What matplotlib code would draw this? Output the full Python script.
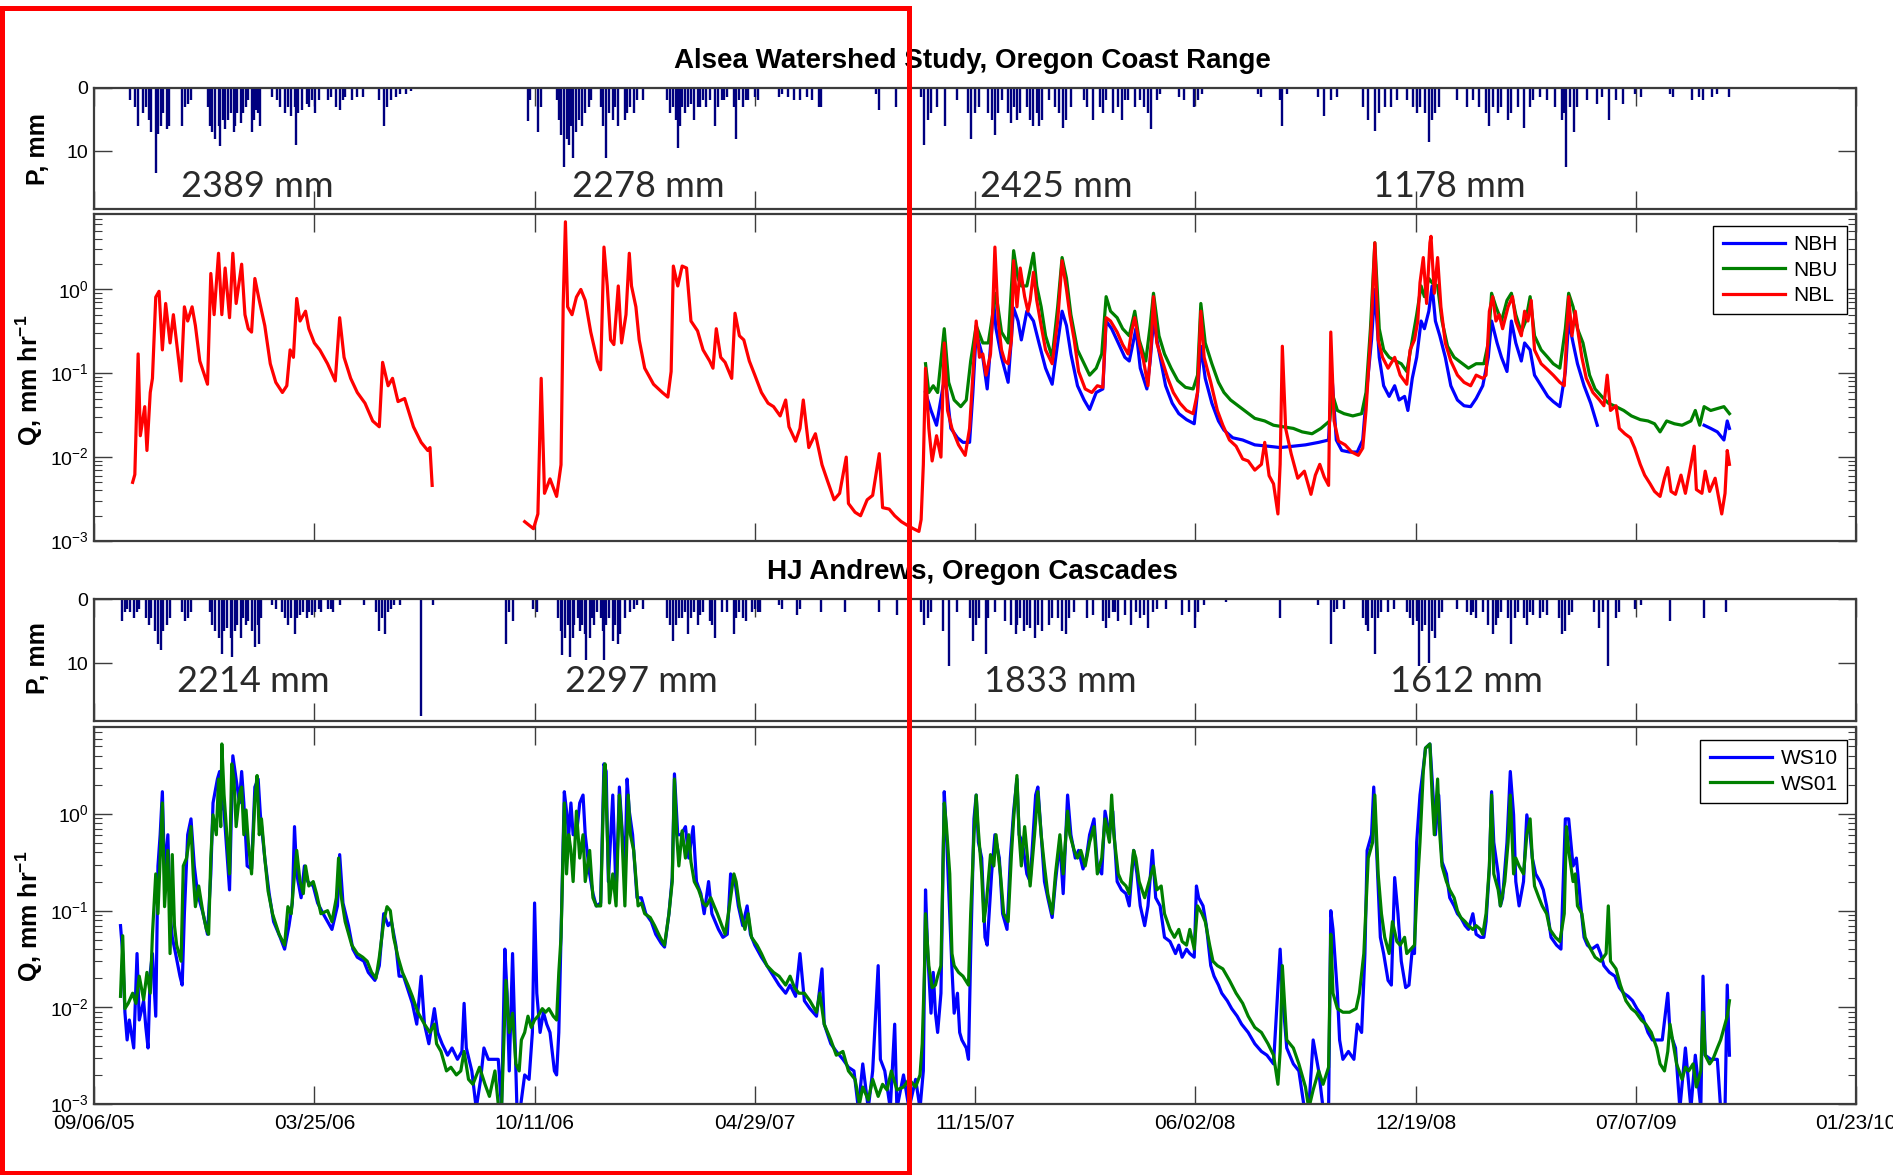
import numpy as np
import matplotlib.pyplot as plt
from matplotlib.patches import Rectangle
from matplotlib.ticker import FixedLocator, LogLocator, NullFormatter, FuncFormatter

plt.rcParams['font.family'] = ['Liberation Sans', 'DejaVu Sans']
plt.rcParams['mathtext.fontset'] = 'custom'
plt.rcParams['mathtext.rm'] = 'Liberation Sans'
plt.rcParams['mathtext.bf'] = 'Liberation Sans:bold'

nan = np.nan

# ---------------- data (x = days since 09/06/05) ----------------
tick_days = [0, 200, 400, 600, 800, 1000, 1200, 1400, 1600]
tick_labels = ['09/06/05', '03/25/06', '10/11/06', '04/29/07', '11/15/07',
               '06/02/08', '12/19/08', '07/07/09', '01/23/10']

# Alsea precipitation (day, mm)
alsea_p = [
    (33, 2), (37, 3), (40, 6), (44, 4), (47, 3), (50, 5), (52, 7), (56, 13.4), (58, 7.3), (61, 6),
    (63, 4), (66, 6.5), (68, 6), (80, 6), (83, 3), (85, 2.5), (88, 2), (103, 3), (105, 6), (107, 7),
    (110, 8), (113, 6), (114, 9.2), (117, 5), (119, 6.5), (122, 5), (124, 4), (127, 7), (128, 6),
    (130, 4), (133, 5.5), (135, 4), (138, 3), (140, 2), (143, 7), (145, 5), (147, 3.5), (149, 4),
    (151, 6), (162, 1.5), (166, 2), (169, 3), (173, 4), (176, 3), (179, 4.5), (182, 3), (183, 9),
    (185, 4), (189, 3.5), (193, 2.5), (195, 3), (198, 2), (201, 4), (204, 2), (212, 2), (215, 1.5),
    (220, 3), (223, 3.5), (226, 2), (228, 1.5), (234, 2), (239, 1.5), (244, 1.5), (259, 2), (263, 6),
    (266, 3), (270, 2), (274, 1.5), (278, 1), (283, 1), (288, 0.5),
    (394, 5.3), (396, 2), (403, 7), (406, 3), (420, 2), (422, 5), (424, 7.5), (427, 12.4), (429, 8),
    (431, 9), (433, 6), (435, 11), (438, 7), (440, 5), (443, 6), (446, 4), (449, 3), (451, 2),
    (460, 3), (462, 6), (465, 11), (468, 4), (471, 5), (473, 3), (476, 6), (482, 5), (484, 4),
    (487, 3), (490, 4), (493, 2), (498, 2), (520, 2), (523, 4), (526, 3), (528, 5), (530, 9.5),
    (532, 6), (534, 3), (537, 4), (539, 3), (542, 2.5), (545, 5), (548, 3), (550, 3), (553, 2),
    (556, 3), (559, 2), (564, 6), (567, 3), (570, 2), (572, 2), (575, 1.5), (581, 3), (583, 8),
    (586, 2), (589, 3), (592, 2), (594, 2), (600, 1.5), (603, 2), (622, 1.5), (625, 1), (630, 1.5),
    (636, 2), (641, 2), (647, 1.5), (652, 2), (658, 3), (660, 3), (710, 1), (713, 3.5), (728, 3),
    (751, 1.5), (754, 9), (757, 5), (760, 4), (765, 3), (773, 6),
    (784, 2), (794, 4), (796, 8), (800, 4), (804, 3), (812, 4), (815, 5), (818, 7.5), (821, 4),
    (824, 2), (830, 4), (833, 5.5), (835, 3), (838, 5), (841, 4), (847, 3), (850, 5), (853, 6),
    (856, 4), (858, 6), (861, 5), (867, 2), (873, 3), (876, 4), (880, 6.3), (883, 5), (887, 3),
    (899, 2), (902, 3), (907, 5), (913, 3), (916, 4), (919, 2), (925, 4), (930, 3), (933, 5),
    (936, 2), (939, 2), (945, 3), (950, 2), (953, 3), (957, 4), (960, 6.5), (965, 2), (968, 1),
    (985, 1.5), (990, 2), (999, 3), (1002, 2), (1006, 1), (1057, 1), (1060, 1.5), (1077, 2),
    (1079, 6), (1083, 1), (1111, 1.5), (1117, 4.5), (1123, 2), (1129, 1.5), (1152, 3), (1157, 5),
    (1163, 6.8), (1167, 4), (1172, 3), (1178, 3), (1183, 2), (1192, 2), (1198, 3), (1201, 4),
    (1204, 3), (1209, 4), (1212, 8.5), (1215, 5), (1218, 4), (1221, 3), (1238, 2), (1247, 3),
    (1252, 2), (1258, 3), (1264, 4), (1267, 6), (1270, 3), (1275, 4), (1278, 3), (1284, 5),
    (1287, 4), (1293, 3), (1298, 6.3), (1304, 3), (1307, 2), (1313, 1.5), (1319, 2), (1327, 3),
    (1333, 5), (1335, 4), (1337, 12.5), (1340, 3), (1344, 7), (1347, 3), (1356, 2), (1365, 2.5),
    (1369, 1.5), (1376, 5), (1382, 2), (1388, 2.5), (1399, 1), (1405, 1.5), (1431, 1), (1434, 1.5),
    (1451, 2), (1457, 1.5), (1461, 2), (1469, 1.5), (1474, 1), (1485, 1.5),
]

# Alsea streamflow (day, mm/hr)
nbh = [
    (755, 0.059), (760, 0.036), (765, 0.024), (771, 0.071), (773, 0.087), (778, 0.022), (784, 0.017),
    (789, 0.015), (795, 0.015), (798, 0.059), (801, 0.31), (807, 0.155), (811, 0.065), (817, 0.68),
    (819, 0.34), (824, 0.155), (830, 0.078), (835, 0.6), (839, 0.42), (842, 0.25), (847, 0.55),
    (853, 0.42), (858, 0.23), (864, 0.115), (870, 0.074), (875, 0.23), (879, 0.55), (883, 0.37),
    (887, 0.17), (893, 0.071), (899, 0.048), (904, 0.037), (910, 0.059), (916, 0.065), (919, 0.42),
    (924, 0.34), (930, 0.23), (936, 0.155), (940, 0.14), (944, 0.25), (946, 0.34), (950, 0.115),
    (956, 0.065), (959, 0.14), (962, 0.42), (968, 0.155), (973, 0.071), (979, 0.044), (985, 0.033),
    (992, 0.028), (999, 0.025), (1002, 0.059), (1005, 0.21), (1009, 0.087), (1015, 0.044),
    (1021, 0.027), (1026, 0.021), (1034, 0.017), (1043, 0.016), (1054, 0.014), (1066, 0.0135),
    (1077, 0.013), (1089, 0.0135), (1100, 0.014), (1112, 0.015), (1121, 0.016), (1124, 0.095),
    (1128, 0.016), (1133, 0.012), (1140, 0.0115), (1147, 0.0115), (1152, 0.016), (1156, 0.071),
    (1160, 0.25), (1163, 1.0), (1167, 0.155), (1171, 0.071), (1176, 0.053), (1181, 0.071),
    (1185, 0.048), (1190, 0.053), (1193, 0.036), (1197, 0.087), (1201, 0.155), (1205, 0.42),
    (1208, 0.34), (1212, 0.55), (1215, 1.1), (1218, 0.42), (1222, 0.28), (1227, 0.155),
    (1232, 0.071), (1238, 0.048), (1244, 0.041), (1250, 0.04), (1255, 0.05), (1261, 0.071),
    (1266, 0.155), (1269, 0.42), (1274, 0.23), (1278, 0.155), (1283, 0.105), (1287, 0.42),
    (1291, 0.23), (1296, 0.14), (1299, 0.23), (1304, 0.19), (1308, 0.095), (1314, 0.071),
    (1320, 0.053), (1325, 0.046), (1331, 0.04), (1336, 0.105), (1339, 0.42), (1343, 0.23),
    (1347, 0.13), (1353, 0.071), (1359, 0.044), (1365, 0.024), (1410, nan), (1462, 0.024),
    (1468, 0.022), (1474, 0.02), (1480, 0.016), (1483, 0.027), (1485, 0.022),
]
nbu = [
    (755, 0.13), (758, 0.059), (762, 0.071), (766, 0.059), (772, 0.34), (776, 0.078), (781, 0.048),
    (787, 0.04), (792, 0.048), (796, 0.14), (801, 0.37), (807, 0.23), (812, 0.23), (817, 0.62),
    (819, 0.9), (824, 0.31), (830, 0.23), (835, 2.9), (839, 1.35), (842, 1.1), (847, 1.1),
    (853, 2.7), (856, 1.1), (860, 0.62), (864, 0.28), (870, 0.155), (875, 0.62), (879, 2.4),
    (883, 1.35), (887, 0.5), (893, 0.19), (899, 0.13), (904, 0.095), (910, 0.115), (915, 0.17),
    (919, 0.82), (923, 0.55), (929, 0.46), (934, 0.34), (940, 0.28), (945, 0.55), (949, 0.25),
    (955, 0.14), (959, 0.37), (962, 0.9), (967, 0.28), (972, 0.17), (978, 0.115), (984, 0.082),
    (991, 0.068), (998, 0.065), (1002, 0.095), (1005, 0.68), (1009, 0.23), (1015, 0.13),
    (1021, 0.078), (1026, 0.059), (1032, 0.048), (1040, 0.04), (1047, 0.034), (1054, 0.029),
    (1063, 0.027), (1071, 0.024), (1080, 0.023), (1089, 0.022), (1097, 0.02), (1106, 0.019),
    (1114, 0.022), (1122, 0.027), (1124, 0.059), (1129, 0.036), (1135, 0.033), (1143, 0.031),
    (1151, 0.033), (1155, 0.059), (1159, 0.34), (1163, 3.6), (1167, 0.34), (1171, 0.19),
    (1176, 0.155), (1182, 0.14), (1187, 0.13), (1192, 0.105), (1197, 0.25), (1201, 0.5),
    (1205, 1.1), (1208, 0.82), (1212, 1.35), (1215, 1.2), (1220, 1.1), (1224, 0.42), (1229, 0.21),
    (1235, 0.155), (1241, 0.135), (1248, 0.115), (1255, 0.13), (1262, 0.13), (1266, 0.23),
    (1269, 0.9), (1273, 0.62), (1278, 0.42), (1283, 0.74), (1287, 0.9), (1291, 0.5), (1296, 0.31),
    (1300, 0.42), (1304, 0.82), (1308, 0.28), (1314, 0.19), (1320, 0.155), (1325, 0.13),
    (1331, 0.115), (1336, 0.34), (1339, 0.9), (1343, 0.62), (1347, 0.34), (1352, 0.23),
    (1358, 0.095), (1363, 0.065), (1369, 0.053), (1375, 0.044), (1382, 0.04), (1389, 0.036),
    (1396, 0.031), (1404, 0.028), (1411, 0.027), (1417, 0.025), (1422, 0.02), (1428, 0.027),
    (1435, 0.025), (1442, 0.024), (1450, 0.027), (1454, 0.036), (1458, 0.024), (1462, 0.04),
    (1468, 0.036), (1474, 0.038), (1480, 0.04), (1485, 0.033),
]
nbl = [
    (35, 0.005), (37, 0.0062), (40, 0.17), (42, 0.018), (46, 0.04), (48, 0.012), (51, 0.059),
    (53, 0.087), (56, 0.81), (59, 0.95), (62, 0.19), (65, 0.68), (69, 0.23), (72, 0.5), (75, 0.23),
    (79, 0.081), (82, 0.62), (85, 0.42), (89, 0.62), (92, 0.37), (96, 0.14), (103, 0.074),
    (106, 1.55), (109, 0.5), (113, 2.7), (116, 0.5), (119, 1.8), (123, 0.46), (126, 2.7),
    (129, 0.68), (134, 2.0), (137, 0.5), (140, 0.34), (143, 0.31), (146, 1.35), (150, 0.74),
    (155, 0.37), (160, 0.13), (165, 0.078), (171, 0.059), (175, 0.071), (178, 0.19), (181, 0.155),
    (184, 0.78), (187, 0.42), (192, 0.55), (195, 0.34), (200, 0.23), (205, 0.19), (212, 0.13),
    (219, 0.081), (223, 0.46), (227, 0.155), (233, 0.087), (239, 0.059), (246, 0.044),
    (253, 0.027), (259, 0.023), (262, 0.135), (267, 0.071), (271, 0.087), (276, 0.046), (282, 0.05),
    (290, 0.023), (297, 0.015), (303, 0.012), (305, 0.013), (307, 0.0046), (340, nan),
    (391, 0.0017), (399, 0.0014), (403, 0.0021), (406, 0.087), (409, 0.0037), (414, 0.0055),
    (420, 0.0034), (424, 0.0081), (426, 0.68), (428, 6.4), (430, 0.62), (434, 0.5), (438, 0.81),
    (442, 1.0), (446, 0.74), (451, 0.31), (457, 0.14), (460, 0.11), (463, 3.2), (466, 1.1),
    (469, 0.25), (472, 0.22), (476, 1.1), (479, 0.23), (483, 0.5), (486, 2.7), (488, 1.1),
    (492, 0.62), (495, 0.25), (500, 0.115), (508, 0.074), (516, 0.059), (521, 0.052), (524, 0.105),
    (526, 1.9), (530, 1.1), (534, 1.9), (538, 1.8), (542, 0.42), (548, 0.32), (553, 0.19),
    (559, 0.14), (562, 0.115), (565, 0.34), (569, 0.155), (573, 0.135), (579, 0.087), (582, 0.52),
    (586, 0.28), (590, 0.25), (595, 0.14), (600, 0.095), (606, 0.059), (612, 0.044), (617, 0.04),
    (623, 0.031), (628, 0.048), (631, 0.023), (637, 0.0155), (641, 0.022), (644, 0.048),
    (649, 0.013), (655, 0.019), (661, 0.0081), (666, 0.0052), (672, 0.0031), (677, 0.0037),
    (683, 0.01), (685, 0.0028), (691, 0.0022), (696, 0.002), (702, 0.0031), (707, 0.0035),
    (713, 0.011), (716, 0.0025), (722, 0.0024), (727, 0.002), (733, 0.0017), (738, 0.00155),
    (744, 0.0014), (749, 0.0013), (751, 0.0018), (753, 0.0081), (755, 0.115), (758, 0.022),
    (761, 0.009), (765, 0.018), (769, 0.01), (772, 0.23), (775, 0.036), (779, 0.022), (785, 0.014),
    (791, 0.0105), (795, 0.022), (798, 0.095), (801, 0.42), (804, 0.155), (807, 0.17), (810, 0.095),
    (814, 0.17), (816, 0.55), (818, 3.2), (821, 0.42), (824, 0.19), (827, 0.14), (830, 0.13),
    (833, 0.25), (835, 2.2), (838, 0.62), (841, 1.8), (845, 0.82), (848, 0.55), (850, 0.74),
    (853, 1.6), (856, 0.74), (860, 0.37), (864, 0.19), (870, 0.13), (875, 0.42), (879, 2.2),
    (883, 1.0), (886, 0.5), (890, 0.25), (894, 0.105), (900, 0.065), (906, 0.059), (911, 0.071),
    (916, 0.068), (919, 0.46), (923, 0.42), (929, 0.31), (934, 0.22), (939, 0.17), (942, 0.31),
    (945, 0.46), (949, 0.23), (953, 0.14), (957, 0.071), (960, 0.23), (962, 0.82), (965, 0.23),
    (969, 0.155), (975, 0.087), (980, 0.059), (986, 0.044), (992, 0.036), (998, 0.033),
    (1002, 0.059), (1005, 0.55), (1008, 0.155), (1014, 0.078), (1020, 0.036), (1025, 0.024),
    (1031, 0.016), (1037, 0.0135), (1043, 0.0095), (1048, 0.009), (1054, 0.007), (1060, 0.0082),
    (1063, 0.015), (1067, 0.006), (1071, 0.0048), (1075, 0.0021), (1077, 0.0082), (1079, 0.21),
    (1082, 0.022), (1087, 0.011), (1093, 0.0056), (1099, 0.0068), (1105, 0.0036), (1109, 0.0061),
    (1113, 0.0082), (1117, 0.0058), (1121, 0.0046), (1123, 0.31), (1126, 0.027), (1130, 0.0155),
    (1136, 0.014), (1142, 0.0115), (1148, 0.0105), (1152, 0.0128), (1155, 0.036), (1158, 0.155),
    (1160, 0.42), (1163, 3.6), (1166, 0.25), (1170, 0.155), (1175, 0.115), (1181, 0.155),
    (1186, 0.095), (1192, 0.074), (1195, 0.19), (1199, 0.25), (1202, 0.42), (1204, 1.2),
    (1207, 2.4), (1210, 0.68), (1213, 3.6), (1214, 4.3), (1217, 0.9), (1220, 2.4), (1223, 0.62),
    (1227, 0.23), (1232, 0.14), (1238, 0.095), (1244, 0.078), (1250, 0.071), (1255, 0.095),
    (1261, 0.087), (1264, 0.095), (1267, 0.55), (1270, 0.82), (1273, 0.42), (1276, 0.5),
    (1279, 0.34), (1284, 0.62), (1288, 0.82), (1291, 0.42), (1296, 0.28), (1299, 0.55),
    (1302, 0.42), (1305, 0.74), (1308, 0.19), (1314, 0.13), (1320, 0.11), (1325, 0.095),
    (1331, 0.078), (1335, 0.071), (1337, 0.25), (1339, 0.82), (1342, 0.28), (1345, 0.55),
    (1348, 0.28), (1351, 0.155), (1355, 0.087), (1361, 0.059), (1367, 0.048), (1371, 0.041),
    (1374, 0.095), (1377, 0.036), (1382, 0.041), (1385, 0.022), (1390, 0.019), (1395, 0.017),
    (1399, 0.0128), (1404, 0.0082), (1408, 0.0061), (1413, 0.0048), (1417, 0.0039), (1422, 0.0034),
    (1426, 0.0056), (1429, 0.0075), (1432, 0.0039), (1436, 0.0036), (1441, 0.0061), (1445, 0.0037),
    (1450, 0.0082), (1453, 0.0135), (1455, 0.0041), (1460, 0.0037), (1463, 0.0068), (1467, 0.0039),
    (1472, 0.0056), (1475, 0.0034), (1478, 0.0021), (1481, 0.0037), (1483, 0.012), (1485, 0.0082),
]

# HJ Andrews precipitation (day, mm)
hja_p = [
    (25, 3.5), (28, 2), (30, 1.5), (33, 2), (36, 3), (39, 2), (41, 1.5), (47, 3), (50, 4), (52, 3),
    (55, 5), (58, 7), (61, 8), (63, 5), (66, 4), (69, 3), (80, 2), (83, 3.5), (85, 3), (88, 2),
    (105, 2), (107, 4), (110, 5), (113, 6), (116, 8.5), (118, 5), (121, 4.5), (124, 6), (125, 9),
    (128, 5), (130, 4), (133, 6), (135, 3), (138, 4), (140, 3.5), (143, 5), (146, 7.5), (149, 4),
    (150, 7), (152, 3), (162, 1), (165, 1.5), (171, 2), (173, 3), (176, 4), (179, 3), (182, 5.5),
    (184, 3), (187, 2.5), (190, 2), (193, 3), (195, 2), (198, 2.5), (201, 2), (204, 1.5), (206, 2),
    (212, 1.5), (215, 1.5), (217, 2), (223, 1), (245, 1), (256, 2), (259, 5), (261, 3), (264, 5.5),
    (267, 2), (270, 1.5), (272, 1), (278, 1), (297, 18.2), (308, 1),
    (374, 7), (377, 2), (380, 3.5), (399, 1.5), (402, 2), (421, 3), (424, 5), (425, 8.7), (428, 6),
    (430, 4), (432, 9), (435, 6), (436, 4), (439, 3), (441, 5), (443, 4), (446, 5.5), (447, 9.5),
    (450, 6), (452, 3), (454, 4), (457, 2), (460, 3), (462, 5), (463, 9.5), (465, 4), (468, 3),
    (471, 6.5), (473, 4), (476, 7), (478, 5.5), (482, 3), (487, 2), (490, 1.5), (493, 1), (498, 1.5),
    (520, 3), (523, 4), (526, 6.5), (528, 4), (531, 3), (534, 3), (537, 2), (539, 5.5), (542, 3),
    (545, 2), (548, 4), (550, 2.5), (553, 2), (559, 3.5), (561, 4), (564, 6), (570, 2), (575, 2),
    (581, 5.5), (583, 3), (586, 2), (589, 3), (592, 3.5), (597, 2), (600, 1.5), (603, 2), (605, 2),
    (622, 1), (625, 1.5), (638, 2.5), (641, 1.5), (660, 2), (682, 2), (713, 2), (729, 2.5),
    (751, 2), (754, 4), (757, 3), (760, 2), (771, 5), (776, 10.5),
    (784, 2), (795, 3), (798, 6.5), (801, 4), (804, 3), (810, 8.5), (812, 3), (818, 2), (827, 3.5),
    (833, 4), (837, 5.5), (838, 4), (841, 3), (844, 5), (847, 4), (850, 4.5), (854, 6), (857, 4),
    (861, 5), (867, 4), (870, 3), (875, 3), (879, 5), (883, 5.5), (885, 3), (890, 2), (902, 3),
    (907, 2.5), (916, 3.5), (919, 4.5), (922, 3), (925, 2), (927, 2), (930, 3.5), (936, 2.5),
    (942, 4), (946, 2), (950, 3), (953, 2.5), (957, 4.5), (962, 2), (965, 1.5), (973, 1.5),
    (988, 2.5), (994, 2), (1000, 4.5), (1002, 2), (1008, 1), (1028, 0.5), (1077, 3), (1111, 1),
    (1123, 7), (1126, 2), (1129, 1.5), (1135, 1.5), (1152, 3), (1155, 4), (1157, 5), (1160, 3),
    (1163, 8.5), (1166, 3), (1169, 2), (1175, 2), (1180, 1.5), (1192, 2), (1195, 3), (1198, 4),
    (1201, 3.5), (1203, 10.5), (1206, 5), (1209, 4), (1212, 10), (1215, 5), (1218, 6), (1221, 3),
    (1224, 2), (1238, 1.5), (1247, 2), (1250, 2.5), (1252, 2), (1255, 3), (1261, 2), (1266, 4),
    (1270, 5.5), (1273, 4), (1275, 3), (1278, 2), (1284, 3), (1287, 7), (1290, 3), (1293, 2),
    (1298, 3), (1301, 4), (1304, 2), (1307, 2.5), (1313, 3), (1316, 2), (1319, 2.5), (1330, 3),
    (1333, 5.5), (1336, 5), (1339, 2.5), (1342, 2), (1362, 2), (1367, 4.5), (1370, 2), (1375, 10.5),
    (1382, 3), (1385, 2), (1399, 1.5), (1405, 1), (1431, 3.5), (1462, 3), (1482, 2),
]

# HJ Andrews streamflow (day, mm/hr)
ws10 = [
    (24, 0.07), (26, 0.036), (28, 0.0089), (30, 0.0046), (32, 0.0074), (36, 0.0038), (39, 0.036),
    (41, 0.0074), (45, 0.0117), (47, 0.0062), (49, 0.0038), (51, 0.023), (53, 0.036), (56, 0.0081),
    (58, 0.29), (60, 0.61), (62, 1.7), (64, 0.24), (67, 0.61), (69, 0.093), (71, 0.053), (74, 0.036),
    (78, 0.021), (80, 0.017), (82, 0.093), (85, 0.61), (88, 0.89), (91, 0.29), (94, 0.15),
    (99, 0.093), (103, 0.057), (106, 0.24), (108, 1.3), (112, 2.3), (114, 2.75), (116, 1.3),
    (118, 1.07), (123, 0.164), (126, 4.0), (129, 2.3), (132, 1.3), (134, 2.75), (136, 1.3),
    (139, 0.29), (143, 0.27), (146, 1.9), (149, 2.3), (151, 0.98), (155, 0.35), (159, 0.15),
    (163, 0.077), (169, 0.053), (173, 0.04), (177, 0.07), (180, 0.12), (182, 0.74), (184, 0.24),
    (188, 0.136), (191, 0.29), (194, 0.2), (199, 0.18), (203, 0.12), (208, 0.093), (212, 0.077),
    (216, 0.064), (221, 0.112), (223, 0.38), (226, 0.12), (231, 0.07), (235, 0.04), (239, 0.033),
    (245, 0.03), (249, 0.023), (255, 0.019), (259, 0.027), (263, 0.093), (267, 0.07), (270, 0.077),
    (274, 0.044), (277, 0.021), (281, 0.021), (286, 0.014), (289, 0.011), (293, 0.0067),
    (297, 0.021), (300, 0.0067), (304, 0.0042), (309, 0.0097), (312, 0.0055), (316, 0.0042),
    (321, 0.0032), (325, 0.0038), (330, 0.0029), (334, 0.0035), (336, 0.011), (338, 0.0038),
    (343, 0.0022), (347, 0.0009), (351, 0.0018), (354, 0.0038), (358, 0.0029), (363, 0.0029),
    (367, 0.0029), (370, 0.0009), (373, 0.04), (375, 0.014), (377, 0.0022), (380, 0.036),
    (384, 0.0009), (387, 0.0009), (391, 0.002), (395, 0.0018), (398, 0.0055), (400, 0.12),
    (402, 0.014), (405, 0.0055), (408, 0.0089), (411, 0.0067), (414, 0.0055), (418, 0.0022),
    (420, 0.002), (422, 0.0055), (424, 0.057), (427, 1.7), (429, 1.07), (431, 0.61), (433, 1.3),
    (435, 0.61), (438, 0.61), (441, 1.3), (444, 1.57), (446, 0.61), (450, 0.24), (453, 0.15),
    (456, 0.112), (460, 0.12), (463, 3.3), (465, 2.75), (467, 0.2), (471, 1.57), (474, 0.15),
    (477, 1.9), (482, 0.24), (484, 2.3), (486, 1.07), (489, 0.61), (493, 0.136), (497, 0.136),
    (501, 0.093), (506, 0.077), (510, 0.057), (515, 0.046), (518, 0.042), (522, 0.093),
    (525, 0.22), (527, 2.6), (530, 0.61), (533, 0.61), (537, 0.74), (540, 0.35), (544, 0.74),
    (547, 0.2), (551, 0.15), (554, 0.093), (558, 0.2), (561, 0.093), (564, 0.077), (567, 0.064),
    (571, 0.053), (575, 0.057), (578, 0.24), (582, 0.2), (585, 0.112), (589, 0.07), (593, 0.112),
    (596, 0.057), (600, 0.044), (606, 0.033), (611, 0.027), (617, 0.021), (622, 0.017),
    (628, 0.014), (632, 0.017), (637, 0.013), (641, 0.036), (645, 0.0117), (650, 0.0097),
    (656, 0.0081), (661, 0.025), (663, 0.0067), (669, 0.0042), (674, 0.0035), (680, 0.0029),
    (685, 0.0024), (690, 0.0022), (694, 0.0009), (698, 0.0026), (703, 0.0009), (707, 0.0022),
    (712, 0.027), (714, 0.0029), (718, 0.0022), (723, 0.0009), (727, 0.0067), (729, 0.0009),
    (735, 0.002), (740, 0.0009), (746, 0.0018), (750, 0.0009), (753, 0.0022),
    (755, 0.164), (757, 0.036), (760, 0.0087), (762, 0.023), (764, 0.0087), (766, 0.0055),
    (769, 0.014), (772, 1.7), (774, 0.61), (777, 0.093), (779, 0.025), (781, 0.0087), (784, 0.014),
    (786, 0.0055), (788, 0.0046), (792, 0.0038), (794, 0.0029), (796, 0.036), (799, 0.89),
    (801, 1.57), (803, 0.51), (806, 0.35), (809, 0.053), (811, 0.044), (815, 0.24), (818, 0.61),
    (822, 0.35), (825, 0.093), (829, 0.064), (832, 0.35), (835, 1.07), (838, 2.3), (840, 0.61),
    (843, 0.51), (847, 0.24), (850, 0.2), (855, 1.57), (857, 1.9), (860, 0.61), (863, 0.2),
    (866, 0.136), (870, 0.085), (873, 0.2), (877, 0.51), (880, 0.15), (884, 1.57), (887, 0.61),
    (891, 0.35), (894, 0.42), (898, 0.27), (901, 0.35), (904, 0.61), (908, 0.89), (911, 0.29),
    (915, 0.24), (918, 1.07), (922, 0.61), (925, 1.07), (929, 0.2), (933, 0.164), (937, 0.15),
    (940, 0.112), (944, 0.42), (947, 0.24), (950, 0.112), (954, 0.07), (957, 0.112), (961, 0.42),
    (964, 0.136), (968, 0.112), (972, 0.053), (977, 0.048), (982, 0.036), (985, 0.044),
    (988, 0.033), (992, 0.04), (995, 0.036), (999, 0.033), (1001, 0.18), (1003, 0.136),
    (1007, 0.112), (1010, 0.07), (1014, 0.027), (1017, 0.021), (1021, 0.017), (1024, 0.014),
    (1029, 0.0117), (1033, 0.0097), (1038, 0.0081), (1042, 0.0067), (1048, 0.0055), (1054, 0.0042),
    (1060, 0.0035), (1065, 0.0032), (1071, 0.0026), (1077, 0.04), (1079, 0.014), (1083, 0.0038),
    (1089, 0.0026), (1094, 0.0022), (1099, 0.0009), (1103, 0.0009), (1107, 0.0046), (1112, 0.0022),
    (1116, 0.0009), (1121, 0.0009), (1123, 0.1), (1125, 0.064), (1129, 0.014), (1131, 0.0046),
    (1134, 0.0029), (1139, 0.0035), (1144, 0.0029), (1147, 0.0067), (1151, 0.0055), (1154, 0.036),
    (1156, 0.42), (1160, 0.61), (1162, 1.9), (1164, 0.61), (1168, 0.053), (1171, 0.036),
    (1175, 0.019), (1178, 0.017), (1181, 0.22), (1184, 0.093), (1187, 0.03), (1191, 0.016),
    (1194, 0.017), (1197, 0.04), (1199, 0.036), (1201, 0.51), (1204, 1.57), (1207, 3.0),
    (1209, 4.8), (1213, 5.3), (1215, 2.3), (1218, 0.61), (1221, 1.57), (1224, 0.32), (1228, 0.24),
    (1231, 0.136), (1235, 0.112), (1238, 0.093), (1241, 0.085), (1245, 0.07), (1248, 0.064),
    (1252, 0.093), (1255, 0.057), (1259, 0.053), (1262, 0.053), (1264, 0.077), (1267, 0.27),
    (1269, 1.7), (1271, 0.51), (1275, 0.24), (1277, 0.112), (1279, 0.136), (1283, 0.51),
    (1286, 2.75), (1289, 0.98), (1291, 0.2), (1294, 0.112), (1298, 0.2), (1301, 0.98), (1304, 0.61),
    (1306, 0.35), (1309, 0.24), (1313, 0.2), (1316, 0.164), (1319, 0.112), (1323, 0.053),
    (1328, 0.044), (1332, 0.04), (1336, 0.89), (1339, 0.89), (1343, 0.29), (1346, 0.35),
    (1350, 0.112), (1353, 0.053), (1356, 0.044), (1360, 0.04), (1365, 0.044), (1368, 0.036),
    (1371, 0.027), (1376, 0.023), (1381, 0.021), (1385, 0.016), (1389, 0.014), (1393, 0.013),
    (1397, 0.0117), (1401, 0.0097), (1406, 0.0081), (1411, 0.0055), (1415, 0.0046), (1420, 0.0046),
    (1424, 0.0046), (1429, 0.014), (1431, 0.0055), (1436, 0.0038), (1440, 0.0009), (1445, 0.0038),
    (1450, 0.0009), (1454, 0.0032), (1459, 0.0009), (1461, 0.021), (1463, 0.0032), (1468, 0.0029),
    (1474, 0.0029), (1477, 0.0009), (1481, 0.0009), (1483, 0.017), (1485, 0.0032),
]
ws01 = [
    (24, 0.013), (26, 0.055), (28, 0.0097), (31, 0.011), (35, 0.014), (38, 0.011), (41, 0.021),
    (45, 0.012), (48, 0.023), (51, 0.014), (53, 0.057), (56, 0.24), (58, 0.093), (60, 0.35),
    (62, 1.3), (64, 0.11), (67, 0.42), (69, 0.036), (71, 0.38), (73, 0.07), (75, 0.044), (79, 0.03),
    (81, 0.29), (84, 0.35), (88, 0.74), (90, 0.24), (92, 0.11), (95, 0.18), (99, 0.093),
    (102, 0.064), (104, 0.057), (106, 0.35), (108, 0.98), (111, 0.61), (113, 2.3), (115, 0.74),
    (116, 5.3), (118, 1.6), (121, 0.51), (123, 0.24), (125, 3.3), (127, 2.3), (129, 0.74),
    (132, 1.6), (134, 1.9), (136, 0.61), (138, 1.1), (140, 0.51), (143, 0.24), (146, 1.4),
    (148, 2.5), (150, 0.61), (152, 0.89), (155, 0.35), (158, 0.16), (162, 0.093), (168, 0.057),
    (173, 0.044), (176, 0.11), (179, 0.093), (182, 0.24), (184, 0.42), (187, 0.2), (190, 0.15),
    (192, 0.29), (195, 0.18), (199, 0.2), (202, 0.15), (206, 0.093), (212, 0.1), (216, 0.077),
    (220, 0.136), (222, 0.35), (224, 0.15), (228, 0.077), (234, 0.044), (239, 0.036), (244, 0.033),
    (248, 0.03), (252, 0.023), (256, 0.02), (259, 0.033), (263, 0.077), (266, 0.11), (269, 0.1),
    (272, 0.053), (276, 0.033), (280, 0.023), (285, 0.017), (289, 0.013), (294, 0.0089),
    (300, 0.0067), (305, 0.0055), (309, 0.0067), (311, 0.0042), (315, 0.0035), (320, 0.0022),
    (324, 0.0024), (329, 0.002), (333, 0.0022), (336, 0.0035), (340, 0.0018), (344, 0.0016),
    (350, 0.0024), (355, 0.0016), (359, 0.0012), (364, 0.0022), (367, 0.001), (370, 0.0009),
    (374, 0.019), (377, 0.0055), (380, 0.0087), (383, 0.0026), (386, 0.0022), (388, 0.0046),
    (391, 0.0055), (394, 0.0081), (397, 0.0062), (400, 0.0074), (403, 0.0081), (407, 0.0097),
    (410, 0.0089), (413, 0.0097), (417, 0.0081), (420, 0.0074), (422, 0.023), (424, 0.053),
    (427, 1.3), (429, 0.24), (431, 0.61), (433, 0.42), (435, 0.2), (438, 1.07), (441, 0.35),
    (444, 0.61), (446, 0.2), (450, 0.42), (453, 0.136), (456, 0.112), (460, 0.112), (463, 2.3),
    (464, 3.3), (466, 0.61), (468, 0.12), (471, 0.24), (474, 0.112), (477, 1.57), (479, 0.74),
    (482, 0.112), (485, 1.57), (487, 0.61), (490, 0.42), (494, 0.112), (497, 0.12), (500, 0.093),
    (505, 0.085), (509, 0.07), (514, 0.053), (518, 0.044), (522, 0.093), (525, 0.2), (527, 2.3),
    (529, 0.61), (531, 0.29), (534, 0.67), (537, 0.35), (540, 0.61), (542, 0.32), (545, 0.2),
    (549, 0.164), (553, 0.12), (556, 0.112), (560, 0.136), (563, 0.112), (566, 0.093), (570, 0.07),
    (573, 0.057), (576, 0.093), (581, 0.24), (583, 0.2), (586, 0.112), (591, 0.064), (594, 0.093),
    (597, 0.053), (602, 0.044), (606, 0.036), (611, 0.027), (617, 0.023), (622, 0.021),
    (628, 0.017), (632, 0.021), (636, 0.016), (640, 0.014), (645, 0.014), (650, 0.0117),
    (656, 0.0089), (659, 0.014), (663, 0.0067), (669, 0.0046), (674, 0.0032), (680, 0.0035),
    (685, 0.0022), (691, 0.0018), (695, 0.001), (698, 0.0015), (703, 0.0011), (707, 0.0018),
    (712, 0.0012), (716, 0.0016), (720, 0.0014), (724, 0.0022), (729, 0.0014), (735, 0.0015),
    (740, 0.0018), (746, 0.0015), (750, 0.002), (752, 0.0042), (754, 0.023), (755, 0.093),
    (758, 0.027), (761, 0.016), (764, 0.017), (766, 0.021), (769, 0.027), (772, 1.3), (774, 0.74),
    (777, 0.24), (779, 0.036), (781, 0.027), (785, 0.023), (789, 0.021), (794, 0.017), (796, 0.093),
    (799, 0.61), (801, 1.57), (803, 0.67), (806, 0.24), (808, 0.077), (810, 0.112), (814, 0.38),
    (817, 0.29), (819, 0.61), (823, 0.24), (826, 0.093), (830, 0.077), (833, 0.38), (835, 0.89),
    (838, 2.5), (840, 0.61), (842, 0.29), (845, 0.74), (847, 0.42), (850, 0.18), (854, 0.61),
    (857, 1.7), (860, 0.61), (863, 0.29), (866, 0.15), (870, 0.093), (873, 0.24), (877, 0.61),
    (880, 0.24), (884, 1.07), (886, 0.61), (890, 0.42), (893, 0.35), (896, 0.42), (900, 0.29),
    (904, 0.51), (908, 0.74), (911, 0.24), (915, 0.35), (918, 0.89), (922, 0.51), (924, 1.57),
    (926, 0.61), (930, 0.24), (933, 0.2), (937, 0.18), (940, 0.15), (944, 0.42), (946, 0.35),
    (949, 0.2), (954, 0.136), (958, 0.2), (962, 0.29), (965, 0.164), (969, 0.18), (972, 0.093),
    (977, 0.064), (981, 0.053), (985, 0.064), (988, 0.048), (992, 0.044), (995, 0.064), (999, 0.04),
    (1002, 0.112), (1006, 0.093), (1009, 0.077), (1013, 0.044), (1016, 0.03), (1020, 0.027),
    (1025, 0.025), (1031, 0.019), (1037, 0.014), (1043, 0.011), (1048, 0.0081), (1054, 0.0062),
    (1060, 0.0055), (1066, 0.0042), (1071, 0.0032), (1075, 0.0016), (1077, 0.0035), (1079, 0.027),
    (1083, 0.0046), (1089, 0.0038), (1094, 0.0026), (1100, 0.0015), (1103, 0.0009), (1107, 0.0014),
    (1112, 0.0022), (1116, 0.0016), (1121, 0.0024), (1123, 0.057), (1125, 0.014), (1129, 0.0097),
    (1134, 0.0089), (1140, 0.0089), (1146, 0.0097), (1149, 0.014), (1153, 0.036), (1155, 0.112),
    (1157, 0.35), (1161, 0.51), (1163, 1.57), (1166, 0.24), (1169, 0.093), (1172, 0.053),
    (1176, 0.036), (1179, 0.077), (1183, 0.048), (1186, 0.044), (1190, 0.053), (1192, 0.036),
    (1199, 0.044), (1201, 0.136), (1204, 0.51), (1207, 2.75), (1209, 4.8), (1213, 5.3),
    (1215, 1.57), (1217, 0.61), (1220, 2.3), (1222, 0.61), (1224, 0.29), (1228, 0.2), (1231, 0.164),
    (1235, 0.136), (1238, 0.1), (1241, 0.085), (1245, 0.077), (1248, 0.07), (1252, 0.064),
    (1255, 0.07), (1259, 0.064), (1261, 0.057), (1264, 0.093), (1267, 0.29), (1269, 1.57),
    (1271, 0.24), (1275, 0.164), (1277, 0.112), (1281, 0.2), (1284, 0.51), (1286, 1.57),
    (1289, 0.24), (1291, 0.35), (1294, 0.29), (1298, 0.24), (1301, 0.61), (1304, 0.89),
    (1306, 0.35), (1308, 0.18), (1312, 0.136), (1315, 0.112), (1319, 0.093), (1322, 0.064),
    (1327, 0.053), (1331, 0.048), (1335, 0.093), (1337, 0.74), (1339, 0.42), (1343, 0.2),
    (1345, 0.24), (1347, 0.112), (1351, 0.093), (1354, 0.053), (1359, 0.04), (1363, 0.033),
    (1368, 0.03), (1373, 0.036), (1375, 0.112), (1377, 0.03), (1382, 0.025), (1386, 0.017),
    (1391, 0.0117), (1396, 0.0097), (1400, 0.0089), (1405, 0.0074), (1409, 0.0067), (1414, 0.0055),
    (1419, 0.0038), (1422, 0.0026), (1426, 0.0022), (1429, 0.0035), (1431, 0.0067), (1434, 0.0042),
    (1437, 0.0026), (1442, 0.0018), (1445, 0.0024), (1448, 0.0022), (1452, 0.0026), (1455, 0.0015),
    (1459, 0.0022), (1461, 0.0089), (1463, 0.0032), (1467, 0.0026), (1470, 0.0029), (1474, 0.0038),
    (1477, 0.0046), (1481, 0.0067), (1483, 0.0081), (1485, 0.0117),
]

annual_totals_alsea = ['2389 mm', '2278 mm', '2425 mm', '1178 mm']
annual_totals_hja = ['2214 mm', '2297 mm', '1833 mm', '1612 mm']
alsea_total_day = [148, 503, 874, 1231]
hja_total_day = [145, 497, 877, 1246]

# ---------------- figure ----------------
fig = plt.figure(figsize=(18.93, 11.75), dpi=100)
x0, w = 0.0497, 0.9308
ax_p1 = fig.add_axes([x0, 0.8221, w, 0.1034])
ax_q1 = fig.add_axes([x0, 0.5396, w, 0.2783])
ax_p2 = fig.add_axes([x0, 0.3864, w, 0.1038])
ax_q2 = fig.add_axes([x0, 0.0604, w, 0.3209])

spine_col = '#3c3c3c'
navy = '#000080'


def style(ax):
    for s in ax.spines.values():
        s.set_linewidth(1.6)
        s.set_color(spine_col)
    ax.set_xlim(0, 1600)
    ax.set_xticks(tick_days)
    ax.tick_params(which='major', direction='in', top=True, right=True, length=13,
                   width=1.0, color=spine_col, labelsize=14, pad=4)
    ax.tick_params(which='minor', direction='in', top=True, right=True, length=6,
                   width=0.8, color=spine_col)
    ax.tick_params(axis='x', labelsize=15)


def precip(ax, data, totals, tot_day, tot_y):
    d = np.array(data, dtype=float)
    ax.vlines(d[:, 0], 0, d[:, 1], color=navy, lw=1.7)
    ax.set_ylim(19, 0)
    ax.set_yticks([0, 10])
    ax.set_yticklabels(['0', '10'])
    style(ax)
    ax.tick_params(labelbottom=False)
    for t, xd in zip(totals, tot_day):
        ax.text(xd, tot_y, t, ha='center', va='center', fontsize=26,
                family=['Lato', 'DejaVu Sans'], color='#2a2a2a')


def flow(ax, series, colors, names, leg_anchor):
    lines = []
    for s, c, n in zip(series, colors, names):
        d = np.array(s, dtype=float)
        ln, = ax.plot(d[:, 0], d[:, 1], color=c, lw=2.3, label=n)
        lines.append(ln)
    ax.set_yscale('log')
    ax.set_ylim(1e-3, 10 ** 0.9)
    ax.yaxis.set_major_locator(FixedLocator([1e-3, 1e-2, 1e-1, 1e0]))
    ax.yaxis.set_major_formatter(FuncFormatter(lambda v, p: r'$10^{%d}$' % round(np.log10(v))))
    ax.yaxis.set_minor_locator(LogLocator(base=10, subs=np.arange(2, 10)))
    ax.yaxis.set_minor_formatter(NullFormatter())
    style(ax)
    leg = ax.legend(handles=lines, loc='upper right', bbox_to_anchor=leg_anchor,
                    borderaxespad=0, fancybox=False, framealpha=1, edgecolor='black',
                    fontsize=15, handlelength=3.0, labelspacing=0.3, handletextpad=0.4,
                    borderpad=0.45)
    leg.get_frame().set_linewidth(1.0)
    return lines


precip(ax_p1, alsea_p, annual_totals_alsea, alsea_total_day, 15.4)
precip(ax_p2, hja_p, annual_totals_hja, hja_total_day, 12.8)

flow(ax_q1, [nbh, nbu, nbl], ['#0000ff', '#008000', '#ff0000'], ['NBH', 'NBU', 'NBL'],
     (1 - 9 / 1762, 1 - 12 / 327))
ax_q1.tick_params(labelbottom=False)

flow(ax_q2, [ws10, ws01], ['#0000ff', '#008000'], ['WS10', 'WS01'],
     (1 - 9 / 1762, 1 - 13 / 377))
ax_q2.set_xticklabels(tick_labels)
ax_q2.tick_params(axis='x', pad=7)

# titles and axis labels
title_kw = dict(ha='center', va='center', fontsize=20, fontweight='bold', family='Liberation Sans')
fig.text(0.5135, 0.948, 'Alsea Watershed Study, Oregon Coast Range', **title_kw)
fig.text(0.5135, 0.513, 'HJ Andrews, Oregon Cascades', **title_kw)

lab_kw = dict(ha='center', va='center', rotation=90, fontsize=18, fontweight='bold',
              family='Liberation Sans')
fig.text(0.020, 0.873, 'P, mm', **lab_kw)
fig.text(0.0155, 0.676, r'Q, mm hr$^{\mathbf{-1}}$', **lab_kw)
fig.text(0.020, 0.440, 'P, mm', **lab_kw)
fig.text(0.0155, 0.220, r'Q, mm hr$^{\mathbf{-1}}$', **lab_kw)

# red highlight box
fig.patches.append(Rectangle((0.0013, 0.0017), 0.4790, 0.9915, transform=fig.transFigure,
                             fill=False, edgecolor='#ff0000', lw=3.6, zorder=10))

fig.savefig('out.png', dpi=100, facecolor='white')
